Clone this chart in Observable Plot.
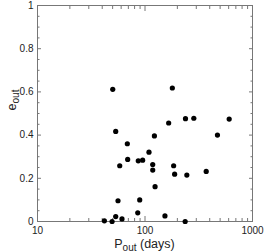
<!DOCTYPE html>
<html><head><meta charset="utf-8">
<script src="https://cdn.jsdelivr.net/npm/d3@7"></script>
<script src="https://cdn.jsdelivr.net/npm/@observablehq/plot@0.6"></script>
<style>
body{margin:0;background:#fff}
#chart svg{display:block;font-family:"Liberation Sans",Arial,sans-serif}
</style>
</head><body><div id="chart"></div>
<script>
// Outer orbital period (days) and outer eccentricity
const periods = [50.1, 53.4, 68.5, 69, 58.2, 56.1, 41.9, 49.4, 53.4, 61.1, 85.6, 89.3, 86.6, 95.1, 108.9, 118, 118, 122.3, 124.1, 153.3, 166, 179.6, 184.7, 188.7, 238, 236.4, 245, 284.6, 371, 472, 607];
const eccentricities = [0.612, 0.417, 0.360, 0.2875, 0.258, 0.096, 0.003, 0.0, 0.023, 0.012, 0.040, 0.100, 0.281, 0.284, 0.321, 0.264, 0.238, 0.396, 0.161, 0.026, 0.456, 0.618, 0.258, 0.219, 0.476, 0.0, 0.215, 0.478, 0.232, 0.400, 0.474];

const xMajorTicks = [10, 100, 1000];
const xMinorTicks = [20, 30, 40, 50, 60, 70, 80, 90, 200, 300, 400, 500, 600, 700, 800, 900];
const yMajorTicks = [0, 0.2, 0.4, 0.6, 0.8, 1];
const yMinorTicks = [0.05, 0.1, 0.15, 0.25, 0.3, 0.35, 0.45, 0.5, 0.55, 0.65, 0.7, 0.75, 0.85, 0.9, 0.95];
const xLabelParts = ["P", "out", " (days)"];
const yLabelParts = ["e", "out"];

const data = periods.map((p, i) => ({p, e: eccentricities[i]}));
const axisColor = "#777";
const none = () => "";

const chart = Plot.plot({
  width: 265,
  height: 252,
  marginLeft: 37,
  marginRight: 13,
  marginTop: 5,
  marginBottom: 31,
  style: {fontSize: "10px", color: "#222", background: "#fff"},
  x: {type: "log", domain: [10, 1000]},
  y: {domain: [0, 1]},
  marks: [
    Plot.frame({stroke: axisColor}),
    Plot.axisX(xMajorTicks, {anchor: "bottom", tickSize: -5, tickPadding: 10, stroke: axisColor, tickFormat: d => String(d), label: null}),
    Plot.axisX(xMinorTicks, {anchor: "bottom", tickSize: -3, stroke: axisColor, tickFormat: none, label: null}),
    Plot.axisX(xMajorTicks, {anchor: "top", tickSize: -5, stroke: axisColor, tickFormat: none, label: null}),
    Plot.axisX(xMinorTicks, {anchor: "top", tickSize: -3, stroke: axisColor, tickFormat: none, label: null}),
    Plot.axisY(yMajorTicks, {anchor: "left", tickSize: -4, tickPadding: 8, stroke: axisColor, tickFormat: d => String(d), label: null}),
    Plot.axisY(yMinorTicks, {anchor: "left", tickSize: -2.5, stroke: axisColor, tickFormat: none, label: null}),
    Plot.axisY(yMajorTicks, {anchor: "right", tickSize: -4, stroke: axisColor, tickFormat: none, label: null}),
    Plot.axisY(yMinorTicks, {anchor: "right", tickSize: -2.5, stroke: axisColor, tickFormat: none, label: null}),
    Plot.dot(data, {x: "p", y: "e", r: 2.6, fill: "#000", stroke: "none"})
  ]
});
document.getElementById("chart").appendChild(chart);

// Axis titles with subscripts
const svg = d3.select(chart);
const xt = svg.append("text")
  .attr("x", (37 + 252) / 2).attr("y", 247.5)
  .attr("text-anchor", "middle").attr("font-size", 12.5).attr("fill", "#222");
xt.append("tspan").text(xLabelParts[0]);
xt.append("tspan").attr("font-size", 10).attr("dy", 3).text(xLabelParts[1]);
xt.append("tspan").attr("dy", -3).text(xLabelParts[2]);

const yt = svg.append("text")
  .attr("transform", "translate(16,100) rotate(-90)")
  .attr("text-anchor", "middle").attr("font-size", 12.5).attr("fill", "#222");
yt.append("tspan").text(yLabelParts[0]);
yt.append("tspan").attr("font-size", 10).attr("dy", 3).text(yLabelParts[1]);
</script>
</body></html>
